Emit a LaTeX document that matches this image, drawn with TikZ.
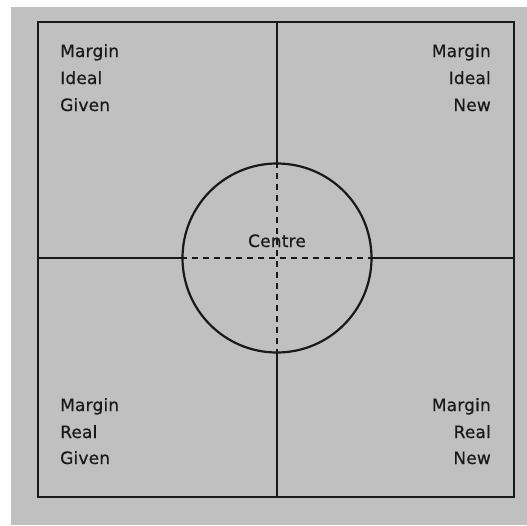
\documentclass[tikz,border=0pt]{standalone}
\usepackage{fontspec}
\setmainfont{DejaVu Sans}[LetterSpace=1,FakeBold=0.6]
\definecolor{bg}{RGB}{192,192,192}
\begin{document}
\begin{tikzpicture}[x=1pt,y=-1pt,
  lbl/.style={inner sep=0pt,font=\fontsize{17}{20}\selectfont,text=black!90},
  solidln/.style={line width=2.2pt,black!90},
  dashln/.style={line width=2pt,black!90,dash pattern=on 6pt off 5pt}]
\useasboundingbox (0,0) rectangle (527,525);
\fill[white] (0,0) rectangle (527,525);
\fill[bg] (11,7) rectangle (527,525);
% frame
\coordinate (tl) at (38,22);
\coordinate (br) at (514,497);
\coordinate (tm) at (277,22);
\coordinate (bm) at (277,497);
\coordinate (lm) at (38,258);
\coordinate (rm) at (514,258);
\draw[line width=2.6pt,black!90] (tl) rectangle (br);
% circle
\node[circle,draw,line width=2.2pt,black!90,minimum size=189pt,inner sep=0pt] (c) at (277,258) {};
\draw[solidln] (tm) -- (c.north);
\draw[solidln] (c.south) -- (bm);
\draw[solidln] (lm) -- (c.west);
\draw[solidln] (c.east) -- (rm);
\draw[dashln] (c.north) -- (c.south);
\draw[dashln] (c.west) -- (c.east);
% labels
\node[lbl,anchor=base west] (t1) at (60,57) {Margin};
\node[lbl,anchor=base west] (t2) at (60,84) {Ideal};
\node[lbl,anchor=base west] (t3) at (60,111) {Given};
\node[lbl,anchor=base east] (r1) at (491,57) {Margin};
\node[lbl,anchor=base east] (r2) at (491,84) {Ideal};
\node[lbl,anchor=base east] (r3) at (491,111) {New};
\node[lbl,anchor=base west] (b1) at (60,411) {Margin};
\node[lbl,anchor=base west] (b2) at (60,438) {Real};
\node[lbl,anchor=base west] (b3) at (60,464) {Given};
\node[lbl,anchor=base east] (s1) at (491,411) {Margin};
\node[lbl,anchor=base east] (s2) at (491,438) {Real};
\node[lbl,anchor=base east] (s3) at (491,464) {New};
\node[lbl,anchor=base] (ctr) at (277,247) {Centre};
\end{tikzpicture}
\end{document}
